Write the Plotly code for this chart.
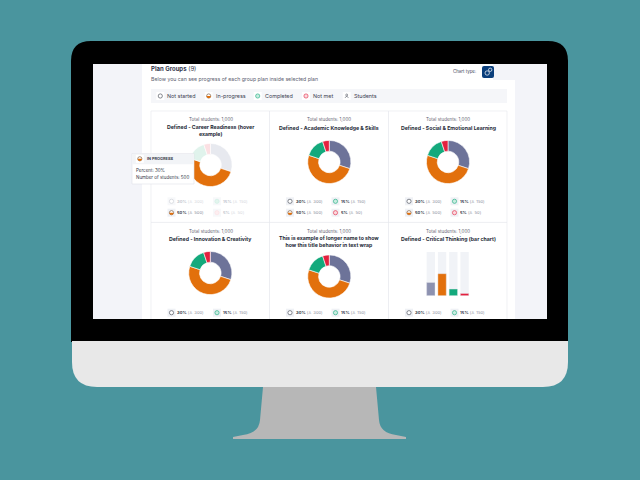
import plotly.graph_objects as go

# data
categories = ["Not started", "In-progress", "Completed", "Not met"]
percents = [30, 50, 15, 5]
students = [300, 500, 150, 50]
track = [100, 100, 100, 100]
colors = ["#6d7399", "#e2700c", "#14a97c", "#e3213f"]
faded_colors = ["#e7e9ef", "#e2700c", "#e0f3ec", "#fbe0e3"]
legend_labels = ["Not started", "In-progress", "Completed", "Not met", "Students"]
card_totals = ["Total students: 1,000"] * 6
card_titles = [
    "Defined - Career Readiness (hover<br>example)",
    "Defined - Academic Knowledge & Skills",
    "Defined - Social & Emotional Learning",
    "Defined - Innovation & Creativity",
    "This is example of longer name to show<br>how this title behavior in text wrap",
    "Defined - Critical Thinking (bar chart)",
]

W, H = 640, 480
FONT = "Inter"
INK = "#2b3040"

shapes = []
notes = []


def rect(x0, y0, x1, y1, fill, line=None, layer="below", lw=0.6):
    shapes.append(dict(type="rect", xref="x", yref="y", x0=x0, y0=y0, x1=x1, y1=y1,
                       fillcolor=fill, layer=layer,
                       line=dict(color=line or fill, width=lw if line else 0)))


def path(d, fill, layer="below", line=None, lw=0.6):
    shapes.append(dict(type="path", xref="x", yref="y", path=d, fillcolor=fill, layer=layer,
                       line=dict(color=line or fill, width=lw if line else 0)))


def circle(cx, cy, r, fill, line=None, layer="above", lw=0.6):
    shapes.append(dict(type="circle", xref="x", yref="y", x0=cx - r, y0=cy - r, x1=cx + r, y1=cy + r,
                       fillcolor=fill, layer=layer,
                       line=dict(color=line or fill, width=lw if line else 0)))


def text(x, y, s, size=5, color=INK, anchor="left", **kw):
    notes.append(dict(xref="x", yref="y", x=x, y=y, text=s, showarrow=False, xanchor=anchor,
                      yanchor="middle", borderpad=0, borderwidth=0,
                      font=dict(family=FONT, size=size, color=color), **kw))


def icon(kind, cx, cy, faded=False, r=2.1, chip="#eff1f5"):
    # small pale chip with a status glyph in it
    rect(cx - 4, cy - 4, cx + 4, cy + 4, "#f7f8fa" if faded else chip, layer="above")
    if kind == 0:
        circle(cx, cy, r, "#ffffff", "#c9ccd3" if faded else "#3a3f4c")
    elif kind == 1:
        circle(cx, cy, r, "#ffffff", "#6b4a2e")
        k = r * 4 / 3
        path(f"M {cx - r} {cy} L {cx + r} {cy} C {cx + r} {cy + k} {cx - r} {cy + k} {cx - r} {cy} Z",
             "#e2700c", layer="above")
    elif kind == 2:
        circle(cx, cy, r, "#e3f5ee" if faded else "#c9ece0", "#cdeee2" if faded else "#14a97c")
    elif kind == 3:
        circle(cx, cy, r, "#fdeef0" if faded else "#fbd9de", "#fbdfe3" if faded else "#e3213f")
    else:
        circle(cx, cy - 1, 1, "#ffffff", "#3a3f4c", lw=0.5)
        path(f"M {cx - 1.8} {cy + 2} L {cx} {cy} L {cx + 1.8} {cy + 2}", "rgba(0,0,0,0)", layer="above",
             line="#3a3f4c", lw=0.5)


# monitor
path("M 71 342 L 71 61 Q 71 41 91 41 L 548 41 Q 568 41 568 61 L 568 342 Z", "#000000")
path("M 72 341 L 568 341 L 568 362 Q 568 387 543 387 L 97 387 Q 72 387 72 362 Z", "#e8e8e8")
path("M 263 387 L 376 387 L 379 420 Q 380 433 396 435 L 406 437 L 406 439 L 233 439 L 233 437 "
     "L 243 435 Q 259 433 260 420 Z", "#b7b7b7")

# page on the screen
rect(93, 64, 547, 319, "#f3f4f9")
rect(142, 80, 515, 319, "#ffffff")
rect(142, 64, 493, 80, "#ffffff")
rect(151, 89, 507, 103, "#f5f6f9")
text(151, 69, "<b>Plan Groups</b> (9)", size=6, color="#30354a")
text(151, 79, "Below you can see progress of each group plan inside selected plan", size=5.2, color="#5c6170")
text(476, 71.5, "Chart type:", size=4.4, color="#40455a", anchor="right")
path("M 484 66 L 492 66 Q 494 66 494 68 L 494 76 Q 494 78 492 78 L 484 78 Q 482 78 482 76 L 482 68 "
     "Q 482 66 484 66 Z", "#0b3f7c")
circle(487.2, 73, 2.2, "rgba(0,0,0,0)", "#ffffff", layer="below", lw=0.7)
circle(490.2, 69.8, 1.7, "rgba(0,0,0,0)", "#ffffff", layer="below", lw=0.7)

# legend strip
legend_x = [160.3, 208.7, 257.7, 306, 346.7]
for i, label in enumerate(legend_labels):
    icon(i, legend_x[i], 96, chip="#ffffff")
    text(legend_x[i] + 7, 96, label, size=5.4, color="#3d4252")

# cards
col_mid = [210.5, 329, 448]
rect(151, 111, 507, 330, "#ffffff", "#e5e7ec")
for vx in [269.5, 388.5]:
    shapes.append(dict(type="line", xref="x", yref="y", x0=vx, x1=vx, y0=111, y1=319, layer="below",
                       line=dict(color="#e5e7ec", width=0.7)))
shapes.append(dict(type="line", xref="x", yref="y", x0=151, x1=507, y0=222.4, y1=222.4, layer="below",
                   line=dict(color="#e5e7ec", width=0.7)))

# cover what runs past the bottom of the screen
rect(93, 319, 547, 341, "#000000")

row_top = [111, 222.4]
donut_y = [165, 162, 162, 273, 276.5]
donut_x = [210.5, 329.3, 448, 210.3, 329.3]
R = 21.6

fig = go.Figure()
# invisible trace keeps the pixel axes alive for the page shapes
fig.add_trace(go.Scatter(x=[0, W], y=[0, H], mode="markers", marker=dict(opacity=0), hoverinfo="skip", showlegend=False))

for i in range(5):
    cx, cy = donut_x[i], donut_y[i]
    fig.add_trace(go.Pie(
        labels=categories, values=percents, hole=0.5, sort=False, direction="clockwise", rotation=0,
        textinfo="none", showlegend=False,
        marker=dict(colors=faded_colors if i == 0 else colors, line=dict(color="#ffffff", width=0.6)),
        domain=dict(x=[(cx - R) / W, (cx + R) / W], y=[1 - (cy + R) / H, 1 - (cy - R) / H]),
    ))

# bar card
fig.add_trace(go.Bar(x=categories, y=track, xaxis="x2", yaxis="y2", marker=dict(color="#f1f3f7", line=dict(width=0)),
                     showlegend=False, hoverinfo="skip"))
fig.add_trace(go.Bar(x=categories, y=percents, xaxis="x2", yaxis="y2", showlegend=False,
                     marker=dict(color=["#8d92b0", colors[1], colors[2], colors[3]],
                                 line=dict(color="#e6e8ee", width=0.4))))

# card texts and chips
for i in range(6):
    col, row = i % 3, i // 3
    top = row_top[row]
    text(col_mid[col], top + 8.6, card_totals[i], size=4.5, color="#5f6473", anchor="center")
    text(col_mid[col], top + (19.5 if "<br>" in card_titles[i] else 16.6), "<b>" + card_titles[i] + "</b>",
         size=5.2, color="#262a38", anchor="center", align="center")
    chip_x = [col_mid[col] - 39, col_mid[col] + 6.5]
    chip_y = [[201.3, 212.7], [312.7]][row]
    order = [[0, 2], [1, 3]]
    for ry, yy in enumerate(chip_y):
        for cc in range(2):
            k = order[ry][cc]
            faded = i == 0 and k != 1
            icon(k, chip_x[cc], yy, faded=faded)
            c1 = "#c4c7cf" if faded else "#343848"
            c2 = "#d5d7dd" if faded else "#8a8e9b"
            text(chip_x[cc] + 5.8, yy,
                 f"<b>{percents[k]}%</b> <span style='color:{c2}'>(♙ {students[k]})</span>",
                 size=4.1, color=c1)

# hover tooltip on the first card
rect(132, 153.5, 194, 184, "#ffffff", "#dfe1e7", layer="above", lw=0.6)
rect(132.3, 153.8, 193.7, 164.3, "#f2f4f7", layer="above")
icon(1, 139.8, 158.8, chip="#ffffff")
text(147, 158.8, "<b>IN PROGRESS</b>", size=3.9, color="#3a3f4c")
text(135.5, 170, "Percent: 30%", size=4.5, color="#343848")
text(135.5, 177.5, "Number of students: 500", size=4.5, color="#343848")

fig.update_layout(
    width=W, height=H,
    margin=dict(l=0, r=0, t=0, b=0),
    paper_bgcolor="#4a959e",
    plot_bgcolor="rgba(0,0,0,0)",
    barmode="overlay",
    bargap=0.26,
    shapes=shapes,
    annotations=notes,
    xaxis=dict(range=[0, W], domain=[0, 1], visible=False, fixedrange=True),
    yaxis=dict(range=[H, 0], domain=[0, 1], visible=False, fixedrange=True),
    xaxis2=dict(domain=[425.2 / W, 470.2 / W], anchor="y2", visible=False, type="category", categoryarray=categories),
    yaxis2=dict(domain=[1 - 295.7 / H, 1 - 251.7 / H], anchor="x2", visible=False, range=[0, 100]),
)

fig.write_html("out.html", config=dict(displayModeBar=False), post_script="document.body.style.margin='0';")
